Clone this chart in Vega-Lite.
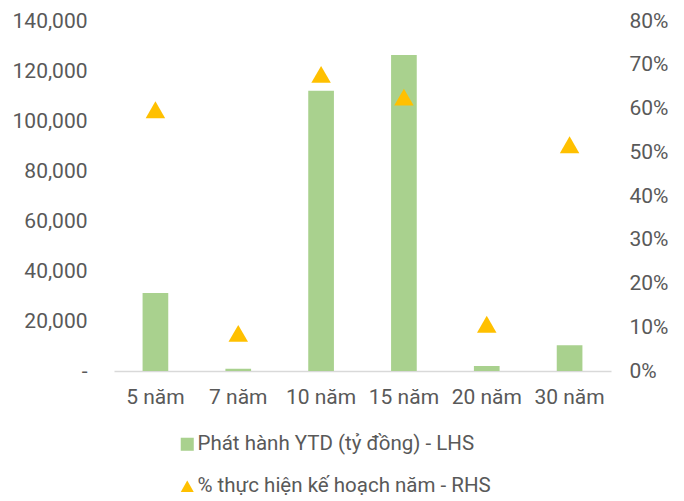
{
  "$schema": "https://vega.github.io/schema/vega-lite/v6.json",
  "width": 497,
  "height": 350,
  "autosize": {"type": "none"},
  "padding": {"left": 114, "top": 21, "right": 73, "bottom": 130},
  "background": "white",
  "config": {
    "view": {"stroke": null},
    "font": "Roboto",
    "axis": {"labelFont": "Roboto", "labelColor": "#595959", "labelFontSize": 21, "grid": false, "ticks": false, "title": null},
    "legend": {"labelFont": "Roboto", "labelColor": "#595959", "labelFontSize": 20.5, "labelLimit": 0}
  },
  "data": {
    "values": [
      {"ky": "5 năm", "series": "Phát hành YTD (tỷ đồng) - LHS", "value": 31200},
      {"ky": "7 năm", "series": "Phát hành YTD (tỷ đồng) - LHS", "value": 900},
      {"ky": "10 năm", "series": "Phát hành YTD (tỷ đồng) - LHS", "value": 112100},
      {"ky": "15 năm", "series": "Phát hành YTD (tỷ đồng) - LHS", "value": 126400},
      {"ky": "20 năm", "series": "Phát hành YTD (tỷ đồng) - LHS", "value": 2000},
      {"ky": "30 năm", "series": "Phát hành YTD (tỷ đồng) - LHS", "value": 10300},
      {"ky": "5 năm", "series": "% thực hiện kế hoạch năm - RHS", "value": 0.597},
      {"ky": "7 năm", "series": "% thực hiện kế hoạch năm - RHS", "value": 0.086},
      {"ky": "10 năm", "series": "% thực hiện kế hoạch năm - RHS", "value": 0.678},
      {"ky": "15 năm", "series": "% thực hiện kế hoạch năm - RHS", "value": 0.626},
      {"ky": "20 năm", "series": "% thực hiện kế hoạch năm - RHS", "value": 0.107},
      {"ky": "30 năm", "series": "% thực hiện kế hoạch năm - RHS", "value": 0.517}
    ]
  },
  "encoding": {
    "x": {
      "field": "ky", "type": "nominal", "sort": null,
      "scale": {"paddingInner": 0.69, "paddingOuter": 0.345},
      "axis": {"labelAngle": 0, "labelPadding": 15, "domainColor": "#D9D9D9", "domainWidth": 1.5}
    }
  },
  "layer": [
    {
      "transform": [{"filter": "datum.series === 'Phát hành YTD (tỷ đồng) - LHS'"}],
      "mark": {"type": "bar"},
      "encoding": {
        "y": {
          "field": "value", "type": "quantitative",
          "scale": {"domain": [0, 140000], "nice": false},
          "axis": {"orient": "left", "values": [0, 20000, 40000, 60000, 80000, 100000, 120000, 140000], "domain": false, "labelPadding": 27,
                   "labelExpr": "datum.value === 0 ? '-' : format(datum.value, ',')"}
        },
        "color": {
          "field": "series", "type": "nominal",
          "scale": {"domain": ["Phát hành YTD (tỷ đồng) - LHS", "% thực hiện kế hoạch năm - RHS"], "range": ["#A9D18E", "#FFC000"]},
          "legend": {"title": null, "orient": "none", "legendX": 63, "legendY": 413, "direction": "vertical", "rowPadding": 21, "symbolSize": 170, "labelOffset": 0, "symbolStrokeWidth": 0}
        }
      }
    },
    {
      "transform": [{"filter": "datum.series === '% thực hiện kế hoạch năm - RHS'"}],
      "mark": {"type": "point", "filled": true, "opacity": 1, "size": 380},
      "encoding": {
        "y": {
          "field": "value", "type": "quantitative",
          "scale": {"domain": [0, 0.8], "nice": false},
          "axis": {"orient": "right", "values": [0, 0.1, 0.2, 0.3, 0.4, 0.5, 0.6, 0.7, 0.8], "format": ".0%", "domain": false, "labelPadding": 18}
        },
        "color": {"field": "series", "type": "nominal"},
        "shape": {
          "field": "series", "type": "nominal",
          "scale": {"domain": ["Phát hành YTD (tỷ đồng) - LHS", "% thực hiện kế hoạch năm - RHS"], "range": ["square", "triangle-up"]},
          "legend": {"title": null, "orient": "none", "legendX": 63, "legendY": 413, "direction": "vertical", "rowPadding": 21, "symbolSize": 170, "labelOffset": 0, "symbolStrokeWidth": 0}
        }
      }
    }
  ],
  "resolve": {"scale": {"y": "independent"}}
}
